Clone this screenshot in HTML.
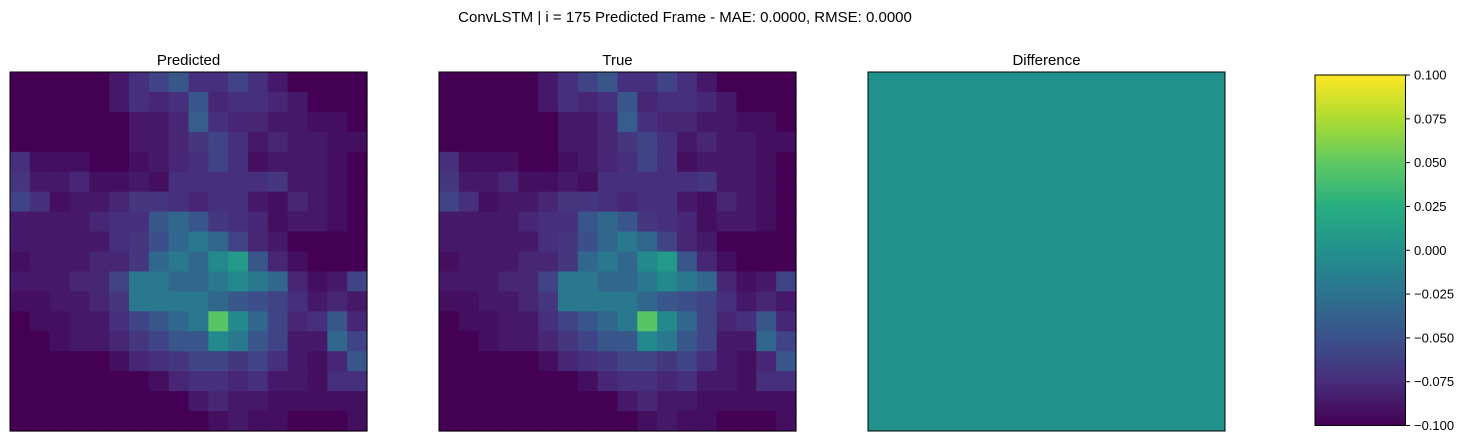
<!DOCTYPE html>
<html><head><meta charset="utf-8"><style>
body{margin:0;background:#fff;width:1476px;height:443px;overflow:hidden;font-family:"Liberation Sans","DejaVu Sans",sans-serif}
</style></head><body>
<svg id="fig" width="1476" height="443" xmlns="http://www.w3.org/2000/svg">
<defs><linearGradient id="vir" x1="0" y1="1" x2="0" y2="0">
<stop offset="0" stop-color="#440154"/><stop offset="0.125" stop-color="#472d7b"/><stop offset="0.25" stop-color="#3b528b"/><stop offset="0.375" stop-color="#2c728e"/><stop offset="0.5" stop-color="#21918c"/><stop offset="0.625" stop-color="#28ae80"/><stop offset="0.75" stop-color="#5ec962"/><stop offset="0.875" stop-color="#addc30"/><stop offset="1" stop-color="#fde725"/></linearGradient></defs>
<text x="685" y="22" text-anchor="middle" font-size="15">ConvLSTM | i = 175 Predicted Frame - MAE: 0.0000, RMSE: 0.0000</text>
<text x="188.5" y="65" text-anchor="middle" font-size="15">Predicted</text>
<text x="617.5" y="65" text-anchor="middle" font-size="15">True</text>
<text x="1046.5" y="65" text-anchor="middle" font-size="15">Difference</text>
<g id="pred"></g>
<g id="truth"></g>
<rect x="868" y="72" width="357" height="359" fill="#21918c" stroke="#000" stroke-width="1"/>
<rect x="1315" y="75" width="90.5" height="350.5" fill="url(#vir)" stroke="#000" stroke-width="1"/>
<g id="cbticks"></g>
</svg>
<script>
const cbTicks=["0.100","0.075","0.050","0.025","0.000","\u22120.025","\u22120.050","\u22120.075","\u22120.100"];
const vmax=0.75;
const gridPred=[
[0,0,0,0,0,0.05,0.1,0.15,0.2,0.1,0.1,0.15,0.1,0.05,0,0,0,0],
[0,0,0,0,0,0.05,0.1,0.08,0.1,0.2,0.08,0.1,0.1,0.08,0.05,0,0,0],
[0,0,0,0,0,0,0.05,0.05,0.08,0.22,0.1,0.08,0.08,0.05,0.05,0.03,0.03,0],
[0,0,0,0,0,0,0.05,0.05,0.08,0.12,0.15,0.1,0.05,0.08,0.05,0.05,0.03,0.03],
[0.1,0.03,0.03,0.03,0,0,0.03,0.05,0.08,0.1,0.15,0.1,0.03,0.05,0.05,0.05,0.03,0],
[0.12,0.05,0.05,0.08,0.03,0.03,0.05,0.03,0.1,0.1,0.1,0.1,0.1,0.12,0.05,0.05,0.03,0],
[0.15,0.1,0.03,0.05,0.05,0.08,0.12,0.12,0.1,0.08,0.1,0.1,0.05,0.03,0.08,0.05,0.03,0],
[0.05,0.05,0.05,0.05,0.08,0.1,0.1,0.2,0.25,0.2,0.12,0.1,0.08,0.03,0.05,0.05,0.03,0],
[0.05,0.05,0.05,0.05,0.05,0.1,0.12,0.18,0.25,0.3,0.25,0.15,0.08,0.05,0,0,0,0],
[0.03,0.05,0.05,0.05,0.08,0.08,0.12,0.25,0.3,0.25,0.35,0.4,0.2,0.08,0.03,0,0,0],
[0.05,0.05,0.05,0.08,0.08,0.15,0.3,0.3,0.25,0.25,0.3,0.35,0.3,0.25,0.08,0.03,0.05,0.15],
[0.03,0.03,0.05,0.05,0.08,0.12,0.3,0.3,0.3,0.3,0.25,0.2,0.18,0.15,0.1,0.05,0.08,0.05],
[0,0.03,0.03,0.05,0.05,0.1,0.15,0.2,0.25,0.3,0.55,0.35,0.25,0.15,0.08,0.1,0.2,0.08],
[0,0,0.03,0.05,0.05,0.08,0.12,0.15,0.2,0.2,0.35,0.3,0.2,0.15,0.05,0.05,0.25,0.15],
[0,0,0,0,0,0.03,0.08,0.1,0.12,0.15,0.15,0.12,0.15,0.1,0.05,0.03,0.08,0.2],
[0,0,0,0,0,0,0,0.03,0.08,0.1,0.1,0.08,0.1,0.05,0.05,0.03,0.1,0.1],
[0,0,0,0,0,0,0,0,0,0.05,0.08,0.05,0.05,0.03,0.03,0.03,0.03,0.03],
[0,0,0,0,0,0,0,0,0,0,0.03,0.05,0.03,0.03,0,0,0,0.03]];
const gridTrue=gridPred.map(r=>r.slice());
const VS=[[68,1,84],[71,45,123],[59,82,139],[44,114,142],[33,145,140],[40,174,128],[94,201,98],[173,220,48],[253,231,37]];
function vir(t){t=Math.max(0,Math.min(1,t))*8;const i=Math.min(7,Math.floor(t)),f=t-i;const a=VS[i],b=VS[i+1];
return `rgb(${a.map((v,k)=>Math.round(v+(b[k]-v)*f)).join(',')})`;}
const NS="http://www.w3.org/2000/svg";
function heat(gid,data,x0,y0,w,h){const g=document.getElementById(gid);const n=data.length,m=data[0].length;
const cw=w/m,ch=h/n;
data.forEach((row,r)=>row.forEach((v,c)=>{const e=document.createElementNS(NS,'rect');
e.setAttribute('x',x0+c*cw);e.setAttribute('y',y0+r*ch);e.setAttribute('width',cw+0.6);e.setAttribute('height',ch+0.6);e.setAttribute('fill',vir(v/vmax));


g.appendChild(e);}));
const b=document.createElementNS(NS,'rect');b.setAttribute('x',x0);b.setAttribute('y',y0);b.setAttribute('width',w);b.setAttribute('height',h);b.setAttribute('fill','none');b.setAttribute('stroke','#000');


g.appendChild(b);}
heat('pred',gridPred,10,72,357,359);
heat('truth',gridTrue,439,72,357,359);
const tg=document.getElementById('cbticks');
cbTicks.forEach((lab,i)=>{const y=75+i*350.5/(cbTicks.length-1);
const l=document.createElementNS(NS,'line');l.setAttribute('x1',1405.5);l.setAttribute('x2',1410);l.setAttribute('y1',y);l.setAttribute('y2',y);l.setAttribute('stroke','#000');


tg.appendChild(l);
const t=document.createElementNS(NS,'text');t.setAttribute('x',1414);t.setAttribute('y',y+4.5);t.setAttribute('font-size','13');t.textContent=lab;


tg.appendChild(t);});
</script>
</body></html>
